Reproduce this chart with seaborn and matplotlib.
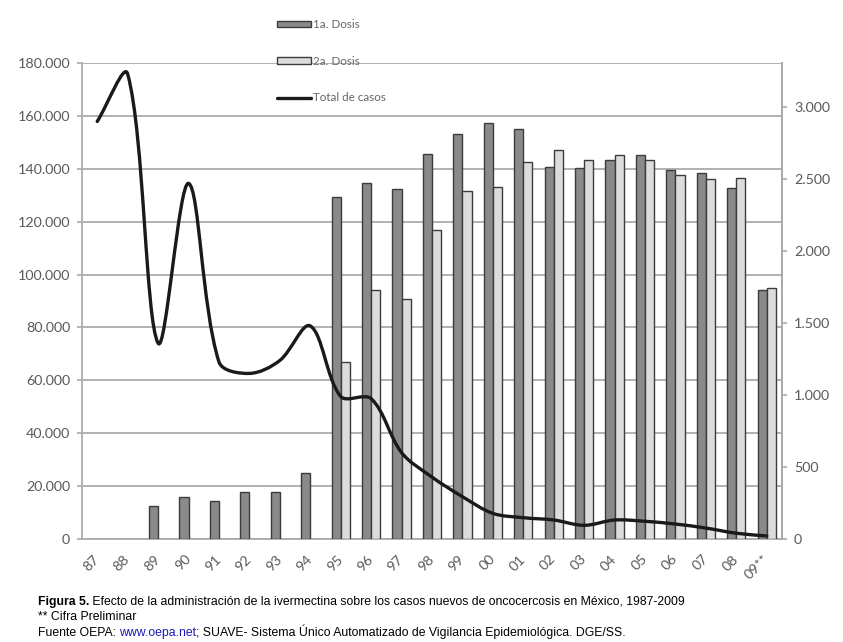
import numpy as np
import pandas as pd
import matplotlib
matplotlib.use("Agg")
import matplotlib.pyplot as plt
import seaborn as sns
from matplotlib.path import Path
from matplotlib.patches import PathPatch, Patch
from matplotlib.lines import Line2D
from matplotlib.ticker import FuncFormatter, FixedLocator

# ---------------- data ----------------
years = ["87", "88", "89", "90", "91", "92", "93", "94", "95", "96", "97", "98",
         "99", "00", "01", "02", "03", "04", "05", "06", "07", "08", "09**"]
dosis1 = [np.nan, np.nan, 12600, 15700, 14400, 17600, 17600, 24900, 129300, 134600,
          132300, 145600, 153000, 157300, 155000, 140600, 140300, 143300, 145200,
          139500, 138400, 132700, 94100]
dosis2 = [np.nan, np.nan, np.nan, np.nan, np.nan, np.nan, np.nan, np.nan, 66900, 94200,
          90700, 116800, 131600, 133000, 142500, 147000, 143300, 145200, 143300,
          137600, 136100, 136500, 94900]
casos = [2900, 3230, 1360, 2470, 1230, 1150, 1240, 1480, 990, 975, 600, 430,
         294, 178, 148, 132, 95, 132, 123, 104, 76, 40, 21]
labels_series = ["1a. Dosis", "2a. Dosis", "Total de casos"]

df = pd.DataFrame({
    "year": years * 2,
    "serie": [labels_series[0]] * len(years) + [labels_series[1]] * len(years),
    "value": dosis1 + dosis2,
})

# ---------------- style ----------------
sns.set_theme(style="white")
plt.rcParams["font.family"] = ["Lato", "DejaVu Sans"]
GRAY = "#ababab"
TXT = "#5a5a5a"
DARK = "#8a8a8a"
LIGHT = "#dcdcdc"
EDGE = "#3c3c3c"

W, H = 843, 642
fig = plt.figure(figsize=(W / 100, H / 100), dpi=100)
ax = fig.add_axes([82 / W, 1 - 539 / H, (782 - 82) / W, (539 - 63) / H])

sns.barplot(data=df, x="year", y="value", hue="serie", order=years,
            hue_order=labels_series[:2], palette=[DARK, LIGHT], width=0.6,
            edgecolor=EDGE, linewidth=1.0, saturation=1, legend=False, ax=ax,
            zorder=3)

ax.set_xlim(-0.5, len(years) - 0.5)
ax.set_ylim(0, 180000)
ax.set_xlabel("")
ax.set_ylabel("")
ax.set_yticks(np.arange(0, 180001, 20000))
fmt = FuncFormatter(lambda v, p: f"{v:,.0f}".replace(",", "."))
ax.yaxis.set_major_formatter(fmt)
ax.grid(axis="y", color=GRAY, linewidth=1.3, zorder=0)
ax.set_axisbelow(True)
ax.spines["top"].set_visible(False)
for s in ["left", "bottom", "right"]:
    ax.spines[s].set_color(GRAY)
    ax.spines[s].set_linewidth(1.3)

ax.set_xticks(range(len(years)))
ax.set_xticklabels(years, rotation=45, ha="right", va="center", rotation_mode="anchor")
ax.tick_params(axis="x", which="major", length=0, pad=13, labelsize=10.3, labelcolor=TXT)
ax.xaxis.set_minor_locator(FixedLocator(np.arange(-0.5, len(years), 1.0)))
ax.tick_params(axis="x", which="minor", length=3.5, width=1.2, color=GRAY, direction="out")
ax.tick_params(axis="y", length=3.6, width=1.2, color=GRAY, direction="out", pad=5,
               labelsize=10.3, labelcolor=TXT, left=True)

# ---------------- secondary axis (smoothed line) ----------------
ax2 = ax.twinx()
ax2.set_ylim(0, 3306)
ax2.set_xlim(-0.5, len(years) - 0.5)
ax2.set_yticks(np.arange(0, 3001, 500))
ax2.yaxis.set_major_formatter(fmt)
ax2.tick_params(axis="y", length=3.6, width=1.2, color=GRAY, direction="out", pad=5,
                labelsize=10.3, labelcolor=TXT, right=True)
for s in ax2.spines:
    ax2.spines[s].set_visible(False)
ax2.spines["right"].set_visible(True)
ax2.spines["right"].set_color(GRAY)
ax2.spines["right"].set_linewidth(1.3)
ax2.grid(False)

# smoothed line (length-weighted Catmull-Rom in screen space, like spreadsheet smoothing)
xs = np.arange(len(casos), dtype=float)
ys = np.asarray(casos, dtype=float)
P = ax2.transData.transform(np.column_stack([xs, ys]))
n = len(P)
verts = [P[0]]
codes = [Path.MOVETO]
for i in range(n - 1):
    p0 = P[i - 1] if i > 0 else P[i]
    p1 = P[i]
    p2 = P[i + 1]
    p3 = P[i + 2] if i + 2 < n else P[i + 1]
    l01 = np.linalg.norm(p1 - p0)
    l12 = np.linalg.norm(p2 - p1)
    l23 = np.linalg.norm(p3 - p2)
    c1 = p1 + (p2 - p0) * (l12 / (l01 + l12) / 3 if l01 + l12 > 0 else 0)
    c2 = p2 - (p3 - p1) * (l12 / (l12 + l23) / 3 if l12 + l23 > 0 else 0)
    verts += [c1, c2, p2]
    codes += [Path.CURVE4] * 3
verts = ax2.transData.inverted().transform(np.array(verts))
ax2.add_patch(PathPatch(Path(verts, codes), fill=False, edgecolor="#1a1a1a",
                        linewidth=2.4, capstyle="round", joinstyle="round", zorder=5))

# ---------------- legend ----------------
handles = [Patch(facecolor=DARK, edgecolor=EDGE, linewidth=1.0),
           Patch(facecolor=LIGHT, edgecolor=EDGE, linewidth=1.0),
           Line2D([], [], color="#1a1a1a", linewidth=2.4)]
leg = fig.legend(handles, labels_series, loc="upper left",
                 bbox_to_anchor=(277 / W, 1 - 19 / H), frameon=False,
                 fontsize=8.4, labelspacing=2.2, handlelength=2.95,
                 handleheight=0.5, handletextpad=0.15, borderpad=0,
                 borderaxespad=0)
for t in leg.get_texts():
    t.set_color("#666666")

# ---------------- caption ----------------
cap_font = dict(family=["Liberation Sans", "DejaVu Sans"], size=8.8)
renderer = fig.canvas.get_renderer()


def put_line(pieces, x_px, y_px):
    x = x_px
    for txt, kw in pieces:
        t = fig.text(x / W, 1 - y_px / H, txt, va="baseline", ha="left", **cap_font, **kw)
        bb = t.get_window_extent(renderer)
        x += bb.width


put_line([("Figura 5.", dict(weight="bold", color="black")),
          (" Efecto de la administración de la ivermectina sobre los casos nuevos de "
           "oncocercosis en México, 1987-2009", dict(color="black"))], 38, 605)
put_line([("** Cifra Preliminar", dict(color="black"))], 38, 620)
put_line([("Fuente OEPA: ", dict(color="black")),
          ("www.oepa.net", dict(color="#1a1ab4")),
          ("; SUAVE- Sistema Único Automatizado de Vigilancia Epidemiológica. DGE/SS.",
           dict(color="black"))], 38, 636)

fig.savefig("out.png", dpi=100)
